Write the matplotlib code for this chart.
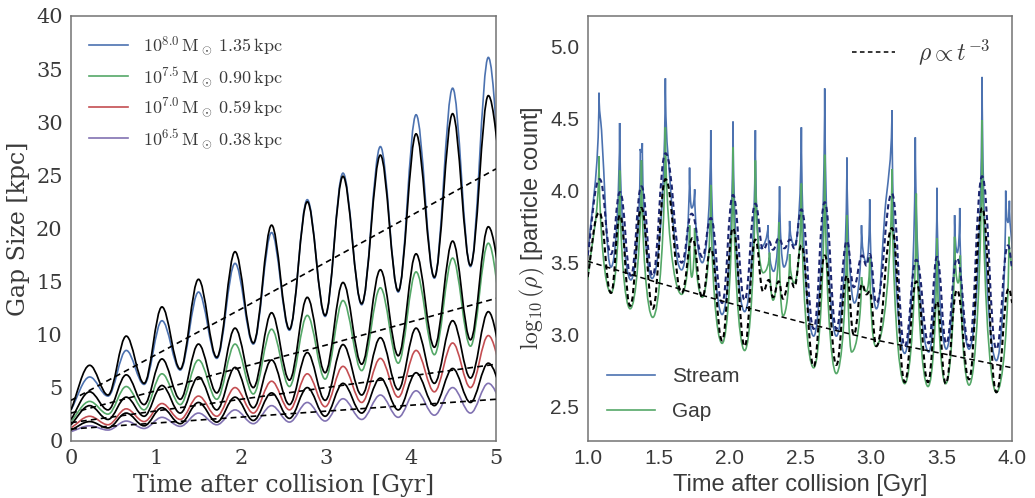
import numpy as np
import matplotlib
matplotlib.use("Agg")
import matplotlib.pyplot as plt
from matplotlib.path import Path
from matplotlib.patches import PathPatch
from matplotlib.lines import Line2D

plt.rcParams['mathtext.fontset'] = 'cm'
plt.rcParams['font.family'] = 'DejaVu Serif'

# ---------------- left panel: gap size, extrema
t_ext = [0.0, 0.22, 0.435, 0.65, 0.86, 1.07, 1.285, 1.50, 1.715, 1.93, 2.145, 2.36, 2.57,
         2.78, 2.99, 3.20, 3.42, 3.64, 3.85, 4.06, 4.275, 4.49, 4.70, 4.91, 5.08]

gap_80 = [2.9, 6.0, 4.2, 8.5, 5.3, 11.3, 6.65, 14.0, 7.75, 16.7, 9.1, 19.6, 10.4, 22.7, 11.7,
          25.2, 12.8, 27.7, 14.0, 30.7, 15.3, 33.2, 16.4, 36.1, 20.5]
fit_80 = [2.9, 7.1, 4.3, 9.85, 5.4, 12.6, 6.75, 15.2, 7.85, 17.8, 9.2, 20.3, 10.5, 22.5, 11.8,
          24.9, 12.9, 26.9, 14.1, 28.9, 15.4, 30.8, 16.5, 32.5, 23.7]
gap_75 = [1.8, 3.7, 2.5, 5.1, 2.9, 6.3, 3.4, 7.6, 3.9, 9.1, 4.4, 10.5, 5.1, 11.8, 5.8, 13.2,
          6.6, 14.4, 7.3, 15.9, 8.1, 17.2, 8.9, 18.6, 10.7]
fit_75 = [2.0, 4.6, 2.9, 6.2, 3.4, 7.7, 3.9, 9.1, 4.5, 10.6, 5.0, 12.05, 5.7, 13.5, 6.4, 14.9,
          7.2, 16.1, 8.0, 17.6, 8.8, 18.8, 9.5, 20.15, 13.8]
gap_70 = [1.2, 2.3, 1.5, 3.0, 1.8, 3.5, 2.0, 4.2, 2.3, 5.0, 2.6, 5.6, 2.9, 6.3, 3.2, 7.0,
          3.6, 7.75, 4.1, 8.5, 4.6, 9.2, 5.0, 9.9, 6.0]
fit_70 = [1.5, 3.3, 2.0, 4.1, 2.3, 5.2, 2.6, 6.0, 2.9, 6.9, 3.1, 7.6, 3.4, 8.3, 3.8, 9.05,
          4.3, 9.7, 4.8, 10.6, 5.4, 11.3, 5.9, 12.15, 7.0]
gap_65 = [0.85, 1.4, 1.0, 1.85, 1.15, 2.2, 1.35, 2.6, 1.5, 2.9, 1.6, 3.3, 1.75, 3.6, 1.85, 3.95,
          2.0, 4.3, 2.2, 4.7, 2.4, 5.0, 2.6, 5.4, 3.3]
fit_65 = [1.0, 1.8, 1.2, 2.6, 1.4, 3.1, 1.6, 3.6, 1.75, 4.1, 1.9, 4.5, 2.1, 5.0, 2.3, 5.4,
          2.6, 5.9, 2.9, 6.4, 3.3, 6.8, 3.6, 7.3, 4.5]

t_lin = [0, 1, 2, 3, 4, 5]
lin_80 = [3.8, 8.1, 12.4, 16.8, 21.2, 25.6]
lin_75 = [2.6, 4.7, 6.9, 9.0, 11.2, 13.4]
lin_70 = [1.7, 2.8, 3.9, 5.0, 6.1, 7.2]
lin_65 = [1.1, 1.66, 2.22, 2.78, 3.34, 3.9]

labels_left = [r'$10^{8.0}\,\mathrm{M}_\odot\;1.35\,\mathrm{kpc}$',
               r'$10^{7.5}\,\mathrm{M}_\odot\;0.90\,\mathrm{kpc}$',
               r'$10^{7.0}\,\mathrm{M}_\odot\;0.59\,\mathrm{kpc}$',
               r'$10^{6.5}\,\mathrm{M}_\odot\;0.38\,\mathrm{kpc}$']

# ---------------- right panel: density, key points
stream_t = [1.000, 1.080, 1.098, 1.165, 1.226, 1.305, 1.372, 1.379, 1.386, 1.455, 1.549, 1.565,
            1.664, 1.720, 1.735, 1.756, 1.810, 1.870, 1.950, 2.027, 2.109, 2.185, 2.215, 2.274,
            2.314, 2.356, 2.387, 2.427, 2.462, 2.510, 2.597, 2.675, 2.757, 2.832, 2.885, 2.935,
            2.970, 2.993, 3.040, 3.100, 3.150, 3.240, 3.315, 3.410, 3.468, 3.534, 3.593, 3.612,
            3.629, 3.695, 3.787, 3.888, 3.954, 3.970, 3.980, 4.000]
stream_v = [3.53, 4.68, 4.42, 3.47, 4.47, 3.38, 4.29, 4.27, 4.33, 3.39, 4.78, 4.28,
            3.45, 4.16, 3.88, 4.01, 3.50, 4.42, 3.14, 4.48, 3.16, 4.42, 3.60, 3.76,
            3.44, 4.03, 3.47, 3.79, 3.62, 4.44, 2.99, 4.71, 2.99, 4.23, 3.22, 3.76,
            3.50, 3.94, 3.18, 3.85, 4.56, 2.87, 4.37, 2.88, 4.02, 2.90, 3.83, 3.57,
            3.88, 2.90, 4.79, 2.82, 4.00, 3.78, 3.93, 3.60]

gap_t = [1.000, 1.080, 1.165, 1.226, 1.300, 1.380, 1.460, 1.549, 1.664, 1.720, 1.735, 1.756,
         1.810, 1.870, 1.950, 2.027, 2.109, 2.185, 2.240, 2.285, 2.310, 2.352, 2.380, 2.427,
         2.460, 2.510, 2.597, 2.675, 2.757, 2.832, 2.865, 2.935, 2.970, 2.993, 3.035, 3.150,
         3.240, 3.322, 3.405, 3.468, 3.530, 3.593, 3.617, 3.633, 3.695, 3.787, 3.888, 3.977,
         4.000]
gap_v = [3.38, 4.24, 3.29, 4.14, 3.18, 4.21, 3.12, 4.44, 3.28, 3.76, 3.40, 3.74,
         3.26, 4.04, 2.94, 4.30, 2.89, 4.21, 3.43, 3.57, 3.24, 3.78, 3.13, 3.56,
         3.36, 4.05, 2.77, 4.25, 2.73, 3.83, 2.88, 3.40, 3.30, 3.54, 2.92, 4.15,
         2.66, 3.98, 2.64, 3.67, 2.66, 3.68, 3.36, 3.55, 2.65, 4.49, 2.60, 3.68,
         3.45]

smodel_t = [1.000, 1.085, 1.165, 1.228, 1.305, 1.380, 1.458, 1.550, 1.664, 1.735, 1.810, 1.870,
            1.950, 2.027, 2.109, 2.185, 2.240, 2.280, 2.310, 2.350, 2.390, 2.430, 2.460, 2.510,
            2.597, 2.675, 2.757, 2.832, 2.880, 2.940, 2.970, 2.993, 3.040, 3.150, 3.240, 3.322,
            3.410, 3.468, 3.534, 3.610, 3.695, 3.787, 3.888, 3.970, 4.000]
smodel_v = [3.55, 4.08, 3.56, 3.99, 3.41, 4.03, 3.41, 4.26, 3.50, 3.84, 3.54, 3.81,
            3.22, 3.97, 3.24, 3.91, 3.59, 3.65, 3.59, 3.67, 3.60, 3.66, 3.60, 3.87,
            3.04, 3.92, 3.04, 3.65, 3.33, 3.55, 3.48, 3.56, 3.22, 3.98, 2.92, 3.52,
            2.94, 3.54, 2.94, 3.53, 2.92, 4.10, 2.90, 3.62, 3.45]

gmodel_t = [1.000, 1.082, 1.165, 1.228, 1.300, 1.380, 1.460, 1.550, 1.664, 1.740, 1.810, 1.870,
            1.950, 2.027, 2.109, 2.185, 2.240, 2.280, 2.310, 2.350, 2.380, 2.430, 2.460, 2.510,
            2.597, 2.675, 2.757, 2.832, 2.880, 2.940, 2.970, 2.993, 3.040, 3.150, 3.240, 3.322,
            3.405, 3.468, 3.530, 3.610, 3.695, 3.787, 3.888, 3.975, 4.000]
gmodel_v = [3.40, 3.85, 3.29, 3.83, 3.20, 3.88, 3.18, 4.08, 3.29, 3.67, 3.26, 3.60,
            2.96, 3.74, 2.92, 3.66, 3.30, 3.38, 3.26, 3.37, 3.25, 3.40, 3.33, 3.62,
            2.78, 3.55, 2.79, 3.41, 3.00, 3.35, 3.28, 3.30, 2.92, 3.74, 2.67, 3.37,
            2.67, 3.23, 2.66, 3.31, 2.69, 3.88, 2.60, 3.32, 3.22]

pow_t = [1.0, 1.5, 2.0, 2.5, 3.0, 3.5, 4.0]
pow_v = [3.51, 3.36, 3.22, 3.09, 2.97, 2.87, 2.77]

blue, green, red, purple = '#4C72B0', '#55A868', '#C44E52', '#8172B2'
navy = '#1c2670'
txt = '#3a3a3a'


def smooth_path(ts, ys, flat=0.36, sharp=False):
    """cubic bezier through the points: flat tangents at extrema, cusps at peaks if sharp"""
    n = len(ts)

    def peak(i):
        return 0 < i < n - 1 and ys[i] >= ys[i - 1] and ys[i] >= ys[i + 1]

    def trough(i):
        return 0 < i < n - 1 and ys[i] <= ys[i - 1] and ys[i] <= ys[i + 1]

    def slope(i):
        a, b = max(i - 1, 0), min(i + 1, n - 1)
        return (ys[b] - ys[a]) / (ts[b] - ts[a])

    verts = [(ts[0], ys[0])]
    codes = [Path.MOVETO]
    for i in range(n - 1):
        j = i + 1
        dt = ts[j] - ts[i]
        dy = ys[j] - ys[i]
        if sharp and peak(i):
            c1 = (ts[i] + 0.03 * dt, ys[i] + 0.55 * dy)
        elif peak(i) or trough(i):
            c1 = (ts[i] + flat * dt, ys[i])
        else:
            c1 = (ts[i] + dt / 3, ys[i] + slope(i) * dt / 3)
        if sharp and peak(j):
            c2 = (ts[j] - 0.03 * dt, ys[j] - 0.55 * dy)
        elif peak(j) or trough(j):
            c2 = (ts[j] - flat * dt, ys[j])
        else:
            c2 = (ts[j] - dt / 3, ys[j] - slope(j) * dt / 3)
        verts += [c1, c2, (ts[j], ys[j])]
        codes += [Path.CURVE4] * 3
    return Path(verts, codes)


def draw(ax, ts, ys, color, lw, ls='-', flat=0.36, sharp=False, z=2):
    p = PathPatch(smooth_path(ts, ys, flat, sharp), fill=False, edgecolor=color,
                  lw=lw, linestyle=ls, zorder=z, capstyle='butt')
    ax.add_patch(p)


fig = plt.figure(figsize=(10.35, 4.98), dpi=100)
ax1 = fig.add_axes([0.0686, 0.1151, 0.4106, 0.8528])
ax2 = fig.add_axes([0.5678, 0.1151, 0.4102, 0.8528])

for ax in (ax1, ax2):
    for s in ax.spines.values():
        s.set_color('0.45')
        s.set_linewidth(1.1)
    ax.tick_params(length=0, pad=6, labelsize=15, colors=txt)

# left
for g, f, c in [(gap_80, fit_80, blue), (gap_75, fit_75, green),
                (gap_70, fit_70, red), (gap_65, fit_65, purple)]:
    draw(ax1, t_ext, g, c, 1.2, z=2)
    draw(ax1, t_ext, f, 'k', 1.25, z=3)
for l in (lin_80, lin_75, lin_70, lin_65):
    ax1.plot(t_lin, l, color='k', lw=1.2, dashes=(3.5, 2.5), zorder=4)

ax1.set_xlim(0, 5)
ax1.set_ylim(0, 40)
ax1.set_xticks(range(6))
ax1.set_yticks(range(0, 41, 5))
ax1.set_xlabel('Time after collision [Gyr]', fontsize=17, color=txt, labelpad=4)
ax1.set_ylabel('Gap Size [kpc]', fontsize=17, color=txt, labelpad=4)
h1 = [Line2D([], [], color=c, lw=1.2) for c in (blue, green, red, purple)]
leg = ax1.legend(h1, labels_left, loc='upper left', frameon=False, fontsize=13,
                 handlelength=2.15, handletextpad=0.85, labelspacing=0.42,
                 borderaxespad=0.6)
for t in leg.get_texts():
    t.set_color(txt)

# right
draw(ax2, stream_t, stream_v, blue, 1.2, flat=0.5, sharp=True, z=2)
draw(ax2, gap_t, gap_v, green, 1.2, flat=0.5, sharp=True, z=3)
draw(ax2, smodel_t, smodel_v, navy, 1.5, ls=(0, (2.5, 1.6)), flat=0.45, z=4)
draw(ax2, gmodel_t, gmodel_v, 'k', 1.5, ls=(0, (2.5, 1.6)), flat=0.45, z=5)
lp, = ax2.plot(pow_t, pow_v, color='k', lw=1.1, dashes=(3.5, 2.5), zorder=6)

ax2.set_xlim(1.0, 4.0)
ax2.set_ylim(2.264, 5.213)
ax2.set_xticks(np.arange(1.0, 4.01, 0.5))
ax2.set_yticks(np.arange(2.5, 5.01, 0.5))
ax2.set_xticklabels(['%.1f' % v for v in np.arange(1.0, 4.01, 0.5)])
ax2.set_yticklabels(['%.1f' % v for v in np.arange(2.5, 5.01, 0.5)])
for t in ax2.get_xticklabels() + ax2.get_yticklabels():
    t.set_family('Liberation Sans')
ax2.set_xlabel('Time after collision [Gyr]', fontsize=17, color=txt,
               family='Liberation Sans', labelpad=4)
ax2.set_ylabel(r'$\log_{10}(\rho)$ [particle count]', fontsize=17, color=txt,
               family='Liberation Sans', labelpad=2)

leg_a = ax2.legend([Line2D([], [], color='k', lw=1.1, dashes=(3.0, 2.2))],
                   [r'$\rho \propto t^{-3}$'], loc='upper right', frameon=False,
                   fontsize=17, handlelength=1.8, handletextpad=1.0)
for t in leg_a.get_texts():
    t.set_color(txt)
ax2.add_artist(leg_a)
leg_b = ax2.legend([Line2D([], [], color=blue, lw=1.2), Line2D([], [], color=green, lw=1.2)],
                   ['Stream', 'Gap'], loc='lower left', frameon=False,
                   prop={'family': 'Liberation Sans', 'size': 15},
                   handlelength=2.3, labelspacing=0.75, borderaxespad=0.55)
for t in leg_b.get_texts():
    t.set_color(txt)

fig.savefig('out.png', dpi=100)
